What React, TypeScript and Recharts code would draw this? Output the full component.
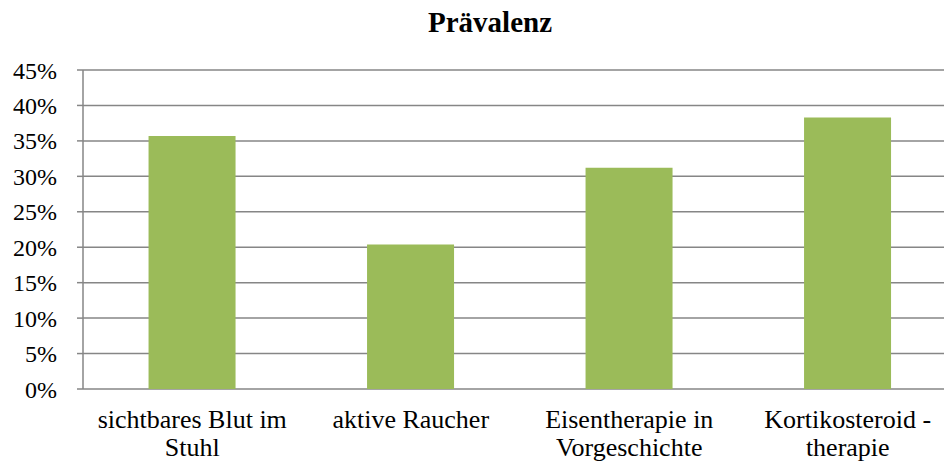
import React from 'react';
import { BarChart, Bar, XAxis, YAxis, CartesianGrid } from 'recharts';

const categories = ['sichtbares Blut im\nStuhl', 'aktive Raucher', 'Eisentherapie in\nVorgeschichte', 'Kortikosteroid -\ntherapie'];
const praevalenz = [0.357, 0.204, 0.312, 0.383];
const yTicks = [0, 0.05, 0.1, 0.15, 0.2, 0.25, 0.3, 0.35, 0.4, 0.45];
const boundaryTicks = [0, 1, 2, 3, 4];

const data = categories.map((name, i) => ({ name, pos: i + 0.5, value: praevalenz[i] }));

const FONT = 'Liberation Serif, DejaVu Serif, serif';
const GRID = '#868686';

const CategoryTick = (props: any) => {
  const { x, y, payload } = props;
  const lines = String(payload.value).split('\n');
  return (
    <text x={x} y={y} textAnchor="middle" style={{ fontFamily: FONT, fontSize: 26 }} fill="#000">
      {lines.map((l, i) => (
        <tspan key={i} x={x} dy={i === 0 ? 31 : 28}>{l}</tspan>
      ))}
    </text>
  );
};

const App: React.FC = () => {
  return (
    <div style={{ position: 'absolute', left: 0, top: 0, width: 944, height: 464, overflow: 'hidden', background: '#fff', fontFamily: FONT }}>
      <div style={{ position: 'absolute', left: 0, width: 980, top: 6, textAlign: 'center', fontFamily: FONT, fontWeight: 'bold', fontSize: 29 }}>
        Prävalenz
      </div>
      <BarChart width={960} height={464} data={data} margin={{ top: 70, right: 3, left: 0, bottom: 0 }} barCategoryGap="30%" style={{ fontFamily: FONT }}>
        <CartesianGrid vertical={false} stroke={GRID} strokeWidth={1.5} />
        <XAxis
          xAxisId="b"
          type="number"
          dataKey="pos"
          domain={[0, 4]}
          ticks={boundaryTicks}
          tickFormatter={() => ''}
          height={0}
          tickSize={6}
          stroke={GRID}
          strokeWidth={1.5}
          allowDataOverflow
        />
        <XAxis
          dataKey="name"
          height={75}
          axisLine={false}
          tickLine={false}
          interval={0}
          tick={<CategoryTick />}
        />
        <YAxis
          width={83}
          domain={[0, 0.45]}
          ticks={yTicks}
          interval={0}
          tickFormatter={(v: number) => `${Math.round(v * 100)}%`}
          tick={{ fill: '#000', fontSize: 24, style: { fontFamily: FONT } }}
          tickSize={6}
          tickMargin={20}
          stroke={GRID}
          strokeWidth={1.5}
        />
        <Bar dataKey="value" fill="#9BBB59" isAnimationActive={false} />
      </BarChart>
    </div>
  );
};

export default App;
